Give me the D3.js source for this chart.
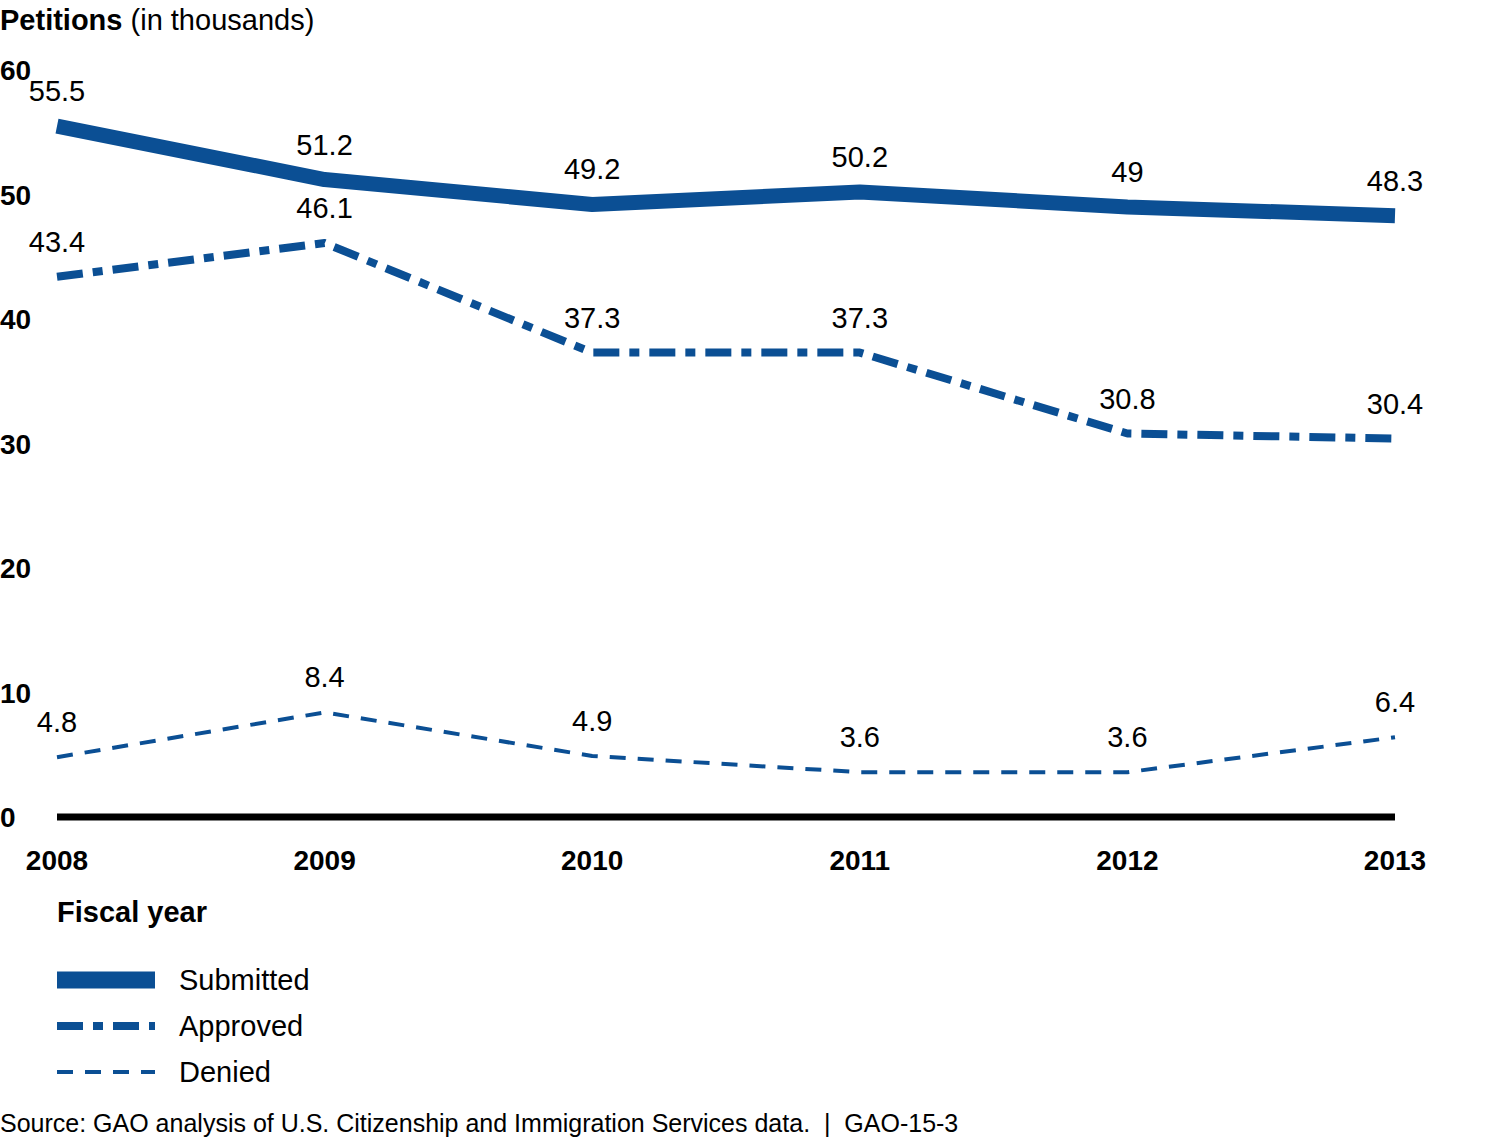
<!DOCTYPE html>
<html>
<head>
<meta charset="utf-8">
<style>
  body { margin: 0; background: #fff; }
  text { font-family: "Liberation Sans", Arial, sans-serif; fill: #000; }
</style>
</head>
<body>
<script src="https://d3js.org/d3.v7.min.js"></script>
<script>
// data
var years = [2008, 2009, 2010, 2011, 2012, 2013];
var submitted = [55.5, 51.2, 49.2, 50.2, 49, 48.3];
var approved = [43.4, 46.1, 37.3, 37.3, 30.8, 30.4];
var denied = [4.8, 8.4, 4.9, 3.6, 3.6, 6.4];
var yTicks = [0, 10, 20, 30, 40, 50, 60];
var seriesNames = ["Submitted", "Approved", "Denied"];

var blue = "#0b4f94";
var styles = {
  Submitted: { width: 15, dash: null },
  Approved: { width: 8, dash: "26,10,10,10" },
  Denied: { width: 4, dash: "16,12" }
};

var svg = d3.select("body").append("svg")
    .attr("width", 1495)
    .attr("height", 1140);

var x = d3.scalePoint().domain(years).range([57, 1395]);
var y = d3.scaleLinear().domain([0, 60]).range([817, 70]);

// title
var title = svg.append("text").attr("x", 0).attr("y", 30).style("font-size", "29px");
title.append("tspan").style("font-weight", "bold").text("Petitions");
title.append("tspan").text(" (in thousands)");

// y tick labels
svg.selectAll(".ytick").data(yTicks).enter().append("text")
    .attr("class", "ytick")
    .attr("x", 0)
    .attr("y", function(d) { return y(d) + 10; })
    .style("font-size", "28px")
    .style("font-weight", "bold")
    .text(function(d) { return d; });

// zero line
svg.append("line")
    .attr("x1", x(2008)).attr("x2", x(2013))
    .attr("y1", y(0)).attr("y2", y(0))
    .attr("stroke", "#000").attr("stroke-width", 7);

// x tick labels
svg.selectAll(".xtick").data(years).enter().append("text")
    .attr("class", "xtick")
    .attr("x", function(d) { return x(d); })
    .attr("y", 870)
    .attr("text-anchor", "middle")
    .style("font-size", "28px")
    .style("font-weight", "bold")
    .text(function(d) { return d; });

svg.append("text").attr("x", 57).attr("y", 922)
    .style("font-size", "29px").style("font-weight", "bold")
    .text("Fiscal year");

var line = d3.line()
    .x(function(d, i) { return x(years[i]); })
    .y(function(d) { return y(d); });

var allSeries = { Submitted: submitted, Approved: approved, Denied: denied };

seriesNames.forEach(function(name) {
  var vals = allSeries[name];
  var st = styles[name];
  svg.append("path")
      .attr("d", line(vals))
      .attr("fill", "none")
      .attr("stroke", blue)
      .attr("stroke-width", st.width)
      .attr("stroke-dasharray", st.dash)
      .attr("stroke-linejoin", "round");

  svg.selectAll(".lab-" + name).data(vals).enter().append("text")
      .attr("x", function(d, i) { return x(years[i]); })
      .attr("y", function(d) { return y(d) - 25; })
      .attr("text-anchor", "middle")
      .style("font-size", "29px")
      .text(function(d) { return d; });
});

// legend
var legend = svg.selectAll(".legend").data(seriesNames).enter().append("g")
    .attr("transform", function(d, i) { return "translate(57," + (980 + i * 46) + ")"; });

legend.append("line")
    .attr("x1", 0).attr("x2", 98)
    .attr("stroke", blue)
    .attr("stroke-width", function(d) { return d == "Submitted" ? 17 : styles[d].width; })
    .attr("stroke-dasharray", function(d) { return styles[d].dash; });

legend.append("text")
    .attr("x", 122).attr("y", 10)
    .style("font-size", "29px")
    .text(function(d) { return d; });

// source
svg.append("text").attr("x", 0).attr("y", 1132)
    .style("font-size", "25px")
    .style("white-space", "pre")
    .text("Source: GAO analysis of U.S. Citizenship and Immigration Services data.  |  GAO-15-3");
</script>
</body>
</html>
